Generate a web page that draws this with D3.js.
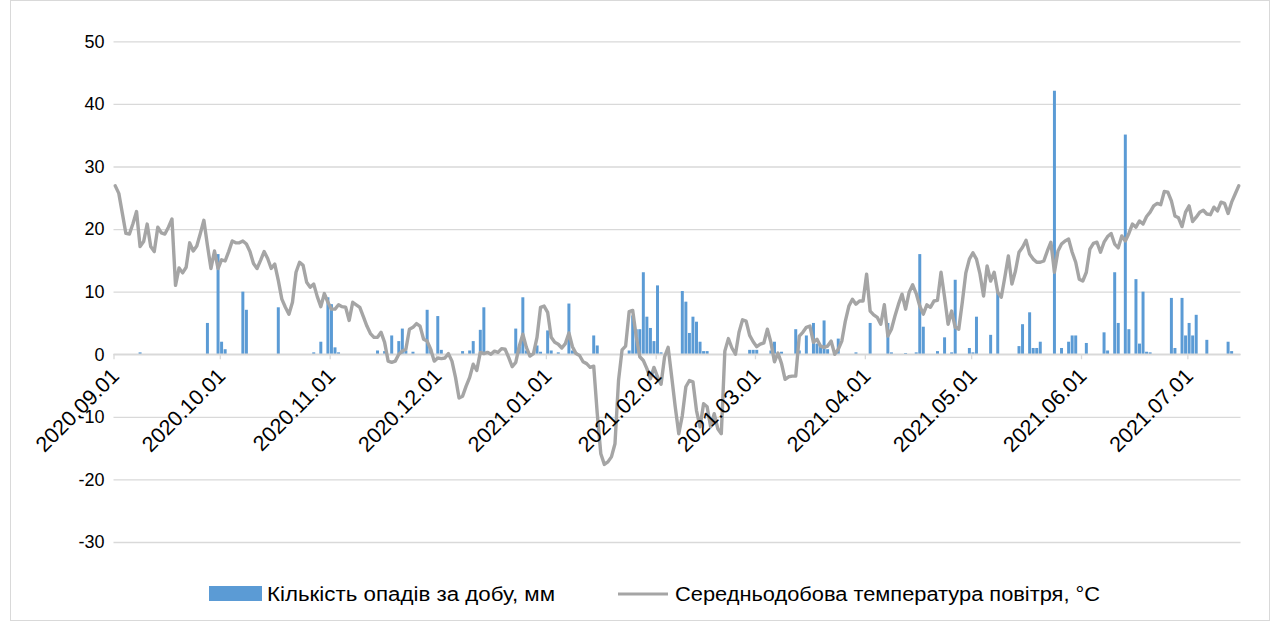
<!DOCTYPE html>
<html><head><meta charset="utf-8">
<script src="https://cdn.jsdelivr.net/npm/d3@7"></script>
<style>body{margin:0;background:#fff} text{font-family:"Liberation Sans",Arial,sans-serif}</style>
</head><body><svg id="c" width="1278" height="626"></svg>
<script>
// ---- data (daily, starting 2020-09-01) ----
const startDate = "2020-09-01";
const monthLabels = ["2020.09.01","2020.10.01","2020.11.01","2020.12.01","2021.01.01","2021.02.01","2021.03.01","2021.04.01","2021.05.01","2021.06.01","2021.07.01"];
const yTicks = [-30,-20,-10,0,10,20,30,40,50];
const seriesNames = ["Кількість опадів за добу, мм","Середньодобова температура повітря, °C"];

// mean daily air temperature, °C
const tSep = [26.9,25.7,22.5,19.3,19.2,20.9,22.8,17.2,18.0,20.8,17.2,16.4,20.3,19.4,19.2,20.3,21.6,11.0,13.8,13.0,13.9,17.8,16.5,17.3,19.3,21.4,17.4,13.7,16.5,13.7];
const tOct = [15.1,14.9,16.4,18.1,17.8,17.8,18.1,17.6,16.4,14.5,13.7,15.0,16.4,15.3,13.7,14.4,11.8,8.8,7.5,6.4,8.3,13.1,14.7,14.2,11.5,10.7,11.2,9.2,7.6,9.7,8.3];
const tNov = [7.2,7.2,7.9,7.6,7.5,5.4,8.3,7.9,7.5,6.0,4.5,3.3,2.7,2.7,3.5,1.9,-1.1,-1.3,-1.1,0.0,0.5,0.8,4.0,4.3,4.9,4.5,2.4,2.1,0.8,-1.1];
const tDec = [-0.6,-0.7,-0.6,0.1,-1.1,-3.7,-7.0,-6.7,-5.1,-3.7,-1.6,-2.6,0.3,0.1,0.3,0.0,0.5,0.3,0.9,0.8,-0.5,-2.0,-1.3,1.3,3.2,1.1,-0.3,0.1,2.7,7.5,7.7];
const tJan = [6.7,2.7,1.9,1.6,1.0,1.7,3.4,1.2,0.1,-0.2,-1.2,-1.5,-2.1,-1.9,-9.5,-15.9,-17.6,-17.2,-16.4,-14.3,-4.2,0.7,1.3,6.8,7.0,2.8,-0.4,-1.0,-2.3,-3.9,-2.1];
const tFeb = [-3.6,-4.8,-0.4,1.1,-3.6,-8.4,-12.7,-9.8,-5.2,-4.2,-4.4,-9.0,-11.6,-7.9,-8.4,-11.6,-9.5,-11.9,-12.7,0.5,2.5,1.0,0.0,3.5,5.5,5.3,3.0,2.0];
const tMar = [1.2,1.6,1.8,4.0,1.9,-1.2,0.2,-1.5,-4.0,-3.6,-3.5,-3.5,2.9,3.5,4.3,4.5,1.9,2.4,1.3,1.1,1.3,2.1,0.0,0.8,2.1,5.3,7.7,8.8,8.0,8.5,8.5];
const tApr = [12.8,6.9,6.3,5.9,4.8,7.9,2.9,4.0,6.1,8.0,9.6,7.2,9.9,11.1,9.7,7.7,6.4,7.9,7.5,8.5,8.6,13.1,9.1,4.8,6.9,4.3,4.0,8.3,13.0,15.2];
const tMay = [16.2,15.2,12.8,9.3,14.1,11.7,13.1,9.9,9.1,12.3,15.7,11.2,13.3,16.3,17.1,18.2,16.0,15.2,14.7,14.7,14.9,16.5,17.9,13.1,16.5,17.6,18.1,18.4,16.3,14.7,12.0];
const tJun = [11.7,13.1,16.8,17.7,17.9,16.3,17.9,18.8,19.3,17.6,17.0,18.9,18.1,19.3,20.8,20.3,21.3,20.8,22.0,22.7,23.7,24.1,23.9,26.0,25.9,24.5,22.1,21.8,20.4,22.7];
const tJul = [23.7,21.2,21.9,22.7,23.0,22.4,22.3,23.5,22.9,24.3,24.1,22.5,24.3,25.6,26.9];

// daily precipitation, mm
const pSep = [0,0,0,0,0,0,0,0.3,0,0, 0,0,0,0,0,0,0,0,0,0, 0,0,0,0,0,0,5.0,0,0,16.0];
const pOct = [2.0,0.8,0,0,0,0,10.0,7.1,0,0, 0,0,0,0,0,0,7.5,0,0,0, 0,0,0,0,0,0,0.3,0,2.0,0, 9.1];
const pNov = [8.0,1.1,0.3,0,0,0,0,0,0,0, 0,0,0,0.6,0,0.5,0,3.0,0,2.1, 4.1,0.6,0,0.4,0,0,0,7.1,0.8,0];
const pDec = [6.1,0.7,0,0,0,0,0,0.5,0,0.6, 2.1,0,3.9,7.5,0,0,0,0,0,0, 0,0,4.1,1.2,9.1,0.6,0,0,1.4,0.4, 0];
const pJan = [3.8,0.6,0,0.3,0,0,8.1,0.6,0.3,0, 0,0,0,3.0,1.4,0,0,0,0,0, 0,0,0,0.6,6.2,4.0,4.0,13.1,6.0,4.2, 2.1];
const pFeb = [11.0,0.3,0,0,0,0,0,10.1,8.4,3.4, 6.0,5.2,2.0,0.5,0.5,0,0,0,0,0, 0,0,0,0,0,0,0.7,0.7];
const pMar = [0.7,0,0,0,0.6,2.0,0,0.4,0,0, 0,4.0,0.6,0,3.0,0,5.0,1.7,1.2,5.4, 0.8,0,0,2.5,0,0,0,0,0.3,0, 0];
const pApr = [0,5.0,0,0,0,0,5.0,0.3,0,0, 0,0.2,0,0,0.3,16.0,4.4,0,0,0, 0.5,0,2.7,0,0.3,11.9,0,0,0,1.0];
const pMay = [0.3,6.0,0,0,0,3.1,0,9.9,0,0, 0,0,0,1.3,4.8,0,6.7,1.0,1.0,2.0, 0,0,0,42.1,0,1.0,0,2.0,3.0,3.0, 0];
const pJun = [0,1.8,0,0,0,0,3.5,0.6,0,13.1, 5.0,0,35.1,4.0,0,12.0,1.7,10.0,0.4,0.3, 0,0,0,0,0,9.0,1.0,0,9.0,3.0];
const pJul = [5.0,3.0,6.3,0,0,2.3,0,0,0,0, 0,2.0,0.5,0,0];

// ---- build ----
const temperature = [].concat(tSep,tOct,tNov,tDec,tJan,tFeb,tMar,tApr,tMay,tJun,tJul);
const precipitation = [].concat(pSep,pOct,pNov,pDec,pJan,pFeb,pMar,pApr,pMay,pJun,pJul);
const parse = d3.utcParse("%Y-%m-%d");
const parseLbl = d3.utcParse("%Y.%m.%d");
const start = parse(startDate);
const end = d3.utcDay.offset(start, temperature.length);
const days = d3.utcDay.range(start, end);

const svg = d3.select("#c");
const plot = {left:113.5, right:1240.5, top:41.3, bottom:542};

const x = d3.scaleUtc().domain([start, end]).range([plot.left, plot.right]);
const y = d3.scaleLinear().domain([-30, 50]).range([plot.bottom, plot.top]);
const band = x(d3.utcDay.offset(start,1)) - x(start);

// chart border
svg.append("rect").attr("x",10.5).attr("y",0.5).attr("width",1259).attr("height",620)
  .attr("fill","#fff").attr("stroke","#D9D9D9");

// gridlines + y labels
const yAxis = d3.axisLeft(y).tickValues(yTicks).tickSize(-(plot.right-plot.left)).tickPadding(8).tickFormat(d => String(d));
const gy = svg.append("g").attr("transform",`translate(${plot.left},0)`).call(yAxis);
gy.select(".domain").remove();
gy.selectAll(".tick line").attr("stroke","#D9D9D9").attr("stroke-width",1.3);
gy.selectAll(".tick text").attr("font-size",18).attr("fill","#000").attr("dx",-1);

// bars
svg.append("g").selectAll("rect").data(days.map((d,i)=>({d, v:precipitation[i]})).filter(o=>o.v>0))
  .join("rect")
  .attr("x", o => x(o.d) + band*0.08)
  .attr("width", band*0.84)
  .attr("y", o => y(o.v))
  .attr("height", o => y(0) - y(o.v))
  .attr("fill","#5B9BD5");

// x axis at 0
const ticks = monthLabels.map(parseLbl);
const xAxis = d3.axisBottom(x).tickValues(ticks).tickSize(5).tickFormat("");
const gx = svg.append("g").attr("transform",`translate(0,${y(0)})`).call(xAxis);
gx.select(".domain").attr("stroke","#D9D9D9").attr("stroke-width",1.3).attr("d",`M${plot.left},0H${plot.right}`);
gx.selectAll(".tick line").attr("stroke","#D9D9D9").attr("stroke-width",1.3);

// temperature line
const line = d3.line().x((d,i)=>x(days[i]) + band/2).y(d=>y(d));
svg.append("path").datum(temperature).attr("d",line)
  .attr("fill","none").attr("stroke","#A5A5A5").attr("stroke-width",3.4).attr("stroke-linejoin","round").attr("stroke-linecap","round");

// rotated date labels
svg.append("g").selectAll("text").data(ticks).join("text")
  .attr("transform", (d)=>`translate(${x(d)+7},${y(0)+23}) rotate(-45)`)
  .attr("text-anchor","end").attr("font-size",21.5).attr("fill","#000")
  .text((d,i)=>monthLabels[i]);

// legend
const lg = svg.append("g");
lg.append("rect").attr("x",209).attr("y",586).attr("width",53).attr("height",15).attr("fill","#5B9BD5");
lg.append("text").attr("x",267).attr("y",601).attr("font-size",20).attr("fill","#000")
  .attr("textLength",288).attr("lengthAdjust","spacingAndGlyphs").text(seriesNames[0]);
lg.append("line").attr("x1",618).attr("x2",668).attr("y1",594).attr("y2",594).attr("stroke","#A5A5A5").attr("stroke-width",3);
lg.append("text").attr("x",675).attr("y",601).attr("font-size",20).attr("fill","#000")
  .attr("textLength",425).attr("lengthAdjust","spacingAndGlyphs").text(seriesNames[1]);
</script></body></html>
